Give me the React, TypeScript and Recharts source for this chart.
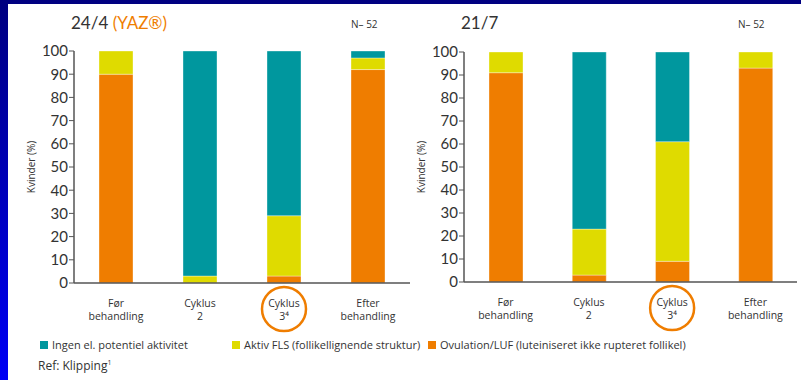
import React from "react"
import { BarChart, Bar, XAxis, YAxis, Label } from "recharts"

// categories on the x axis (two text lines each)
const categoryTop = ["Før", "Cyklus", "Cyklus", "Efter"]
const categoryBottom = ["behandling", "2", "3⁴", "behandling"]
const circledIndex = 2

const yTicks = [0, 10, 20, 30, 40, 50, 60, 70, 80, 90, 100]

// 24/4 regimen (YAZ), % of women
const yazOvulation = [90, 0, 3, 92]
const yazAktiv = [10, 3, 26, 5]
const yazIngen = [0, 97, 71, 3]

// 21/7 regimen, % of women
const regOvulation = [91, 3, 9, 93]
const regAktiv = [9, 20, 52, 7]
const regIngen = [0, 77, 39, 0]

const legendLabels = [
  "Ingen el. potentiel aktivitet",
  "Aktiv FLS (follikellignende struktur)",
  "Ovulation/LUF (luteiniseret ikke rupteret follikel)",
]

const TEAL = "#00979e"
const YELLOW = "#dfdb00"
const ORANGE = "#ef7d00"
const TEXT = "#333333"
const FONT = "Lato, 'Open Sans', sans-serif"

const CategoryTick = (props: any) => {
  const { x, y, index } = props
  return (
    <g>
      {index === circledIndex && (
        <circle cx={x} cy={y + 26} r={22} fill="none" stroke={ORANGE} strokeWidth={2.5} />
      )}
      <text x={x} y={y + 24} textAnchor="middle" fontSize={10.5} fill={TEXT} fontFamily="'Open Sans', sans-serif">
        {categoryTop[index]}
      </text>
      <text x={x} y={y + 37} textAnchor="middle" fontSize={10.5} fill={TEXT} fontFamily="'Open Sans', sans-serif">
        {categoryBottom[index]}
      </text>
    </g>
  )
}

const YLabel = (props: any) => {
  const { viewBox } = props
  const cx = viewBox.x + 31
  const cy = viewBox.y + viewBox.height / 2
  return (
    <text
      x={cx}
      y={cy}
      transform={`rotate(-90 ${cx} ${cy})`}
      textAnchor="middle"
      dominantBaseline="central"
      fontSize={10}
      fill={TEXT}
      fontFamily="'Open Sans', sans-serif"
    >
      Kvinder (%)
    </text>
  )
}

const Panel = ({
  ovulation,
  aktiv,
  ingen,
  left,
  width,
  plotTop,
  plotBottom,
  rightMargin,
}: {
  ovulation: number[]
  aktiv: number[]
  ingen: number[]
  left: number
  width: number
  plotTop: number
  plotBottom: number
  rightMargin: number
}) => {
  const data = categoryTop.map((c, i) => ({
    name: `${c} ${categoryBottom[i]}`,
    ovulation: ovulation[i],
    aktiv: aktiv[i],
    ingen: ingen[i],
  }))
  const edge = "rgba(255,255,255,0.35)"
  return (
    <div style={{ position: "absolute", left, top: 0 }}>
      <BarChart
        width={width}
        height={plotBottom + 60}
        data={data}
        margin={{ top: plotTop, right: rightMargin, bottom: 0, left: 0 }}
      >
        <XAxis
          dataKey="name"
          interval={0}
          height={60}
          tickSize={0}
          tickMargin={0}
          tickLine={false}
          axisLine={{ stroke: "#555", strokeWidth: 1.5 }}
          tick={<CategoryTick />}
        />
        <YAxis
          width={74}
          domain={[0, 100]}
          ticks={yTicks}
          interval={0}
          tickSize={5}
          tickMargin={1}
          axisLine={{ stroke: "#555", strokeWidth: 1.5 }}
          tickLine={{ stroke: "#555" }}
          tick={{ fontSize: 15, fill: TEXT, fontFamily: FONT }}
        >
          <Label content={<YLabel />} />
        </YAxis>
        <Bar dataKey="ovulation" stackId="a" fill={ORANGE} stroke={edge} barSize={34} isAnimationActive={false} />
        <Bar dataKey="aktiv" stackId="a" fill={YELLOW} stroke={edge} barSize={34} isAnimationActive={false} />
        <Bar dataKey="ingen" stackId="a" fill={TEAL} stroke={edge} barSize={34} isAnimationActive={false} />
      </BarChart>
    </div>
  )
}

const txt = (style: React.CSSProperties): React.CSSProperties => ({
  position: "absolute",
  lineHeight: 1,
  whiteSpace: "nowrap",
  color: TEXT,
  fontFamily: "'Open Sans', sans-serif",
  ...style,
})

const legendColors = [TEAL, YELLOW, ORANGE]
const legendX = [40, 232, 428]

export default function App() {
  return (
    <div
      style={{
        position: "absolute",
        left: 0,
        top: 0,
        width: 801,
        height: 380,
        background: "linear-gradient(to bottom, #000080, #0000f5)",
        overflow: "hidden",
      }}
    >
      <div style={{ position: "absolute", left: 8, top: 4, width: 793, height: 376, background: "#fff" }} />

      <div style={txt({ left: 71, top: 14, fontSize: 17, fontFamily: FONT })}>
        24/4 <span style={{ color: ORANGE }}>(YAZ®)</span>
      </div>
      <div style={txt({ left: 351, top: 19, fontSize: 10 })}>N– 52</div>
      <div style={txt({ left: 461, top: 14, fontSize: 17, fontFamily: FONT })}>21/7</div>
      <div style={txt({ left: 738, top: 19, fontSize: 10 })}>N– 52</div>

      <Panel
        ovulation={yazOvulation}
        aktiv={yazAktiv}
        ingen={yazIngen}
        left={0}
        width={420}
        plotTop={51}
        plotBottom={283}
        rightMargin={10}
      />
      <Panel
        ovulation={regOvulation}
        aktiv={regAktiv}
        ingen={regIngen}
        left={390}
        width={411}
        plotTop={52}
        plotBottom={282}
        rightMargin={4}
      />

      {legendLabels.map((l, i) => (
        <div key={l} style={txt({ left: legendX[i], top: 339, fontSize: 11, display: "flex", alignItems: "center" })}>
          <span style={{ width: 8, height: 8, background: legendColors[i], marginRight: 4, display: "inline-block" }} />
          {l}
        </div>
      ))}
      <div style={txt({ left: 38, top: 359, fontSize: 12 })}>
        Ref: Klipping<sup style={{ fontSize: 7 }}>1</sup>
      </div>
    </div>
  )
}
